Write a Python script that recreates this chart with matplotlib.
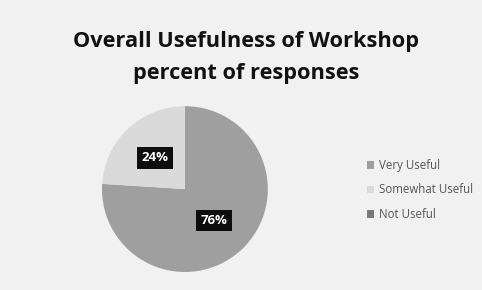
import matplotlib
matplotlib.use("Agg")
import matplotlib.pyplot as plt

# data
titulo1 = 'Overall Usefulness of Workshop'
titulo2 = 'percent of responses'
categorias = ['Very Useful', 'Somewhat Useful', 'Not Useful']
porcentajes = [76, 24, 0]
colores = ['#9f9f9f', '#dadada', '#7a7a7a']

fig = plt.figure(figsize=(4.82, 2.90), dpi=100)
fig.patch.set_facecolor('#f1f1f1')

# titulo, dos lineas
fig.text(0.51, 0.838, titulo1, ha='center', va='baseline', fontsize=15.7,
         fontweight='bold', family='Open Sans', color='#111111')
fig.text(0.51, 0.728, titulo2, ha='center', va='baseline', fontsize=15.7,
         fontweight='bold', family='Open Sans', color='#111111')

ax = fig.add_axes([0.2116, 0.062, 0.344, 0.572])
ax.set_facecolor('none')
wedges, textos, autotextos = ax.pie(
    porcentajes, colors=colores, startangle=90, counterclock=False,
    autopct=lambda p: '%d%%' % round(p) if p > 0 else '', pctdistance=0.52,
    radius=1.0, wedgeprops=dict(linewidth=0))
for t in autotextos:
    t.set_color('white')
    t.set_fontweight('bold')
    t.set_fontsize(9.5)
    t.set_family('Open Sans')
    t.set_bbox(dict(facecolor='#0d0d0d', edgecolor='none', pad=3.2))
ax.set_xlim(-1, 1)
ax.set_ylim(-1, 1)
ax.set_aspect('equal')

leg = fig.legend(wedges, categorias, loc='center left',
                 bbox_to_anchor=(0.74, 0.345), frameon=False,
                 handlelength=0.6, handleheight=0.6,
                 handletextpad=0.45, labelspacing=1.0,
                 prop={'family': 'Open Sans', 'size': 8.3})
for t in leg.get_texts():
    t.set_color('#555555')

fig.savefig('out.png', dpi=100, facecolor=fig.get_facecolor())
